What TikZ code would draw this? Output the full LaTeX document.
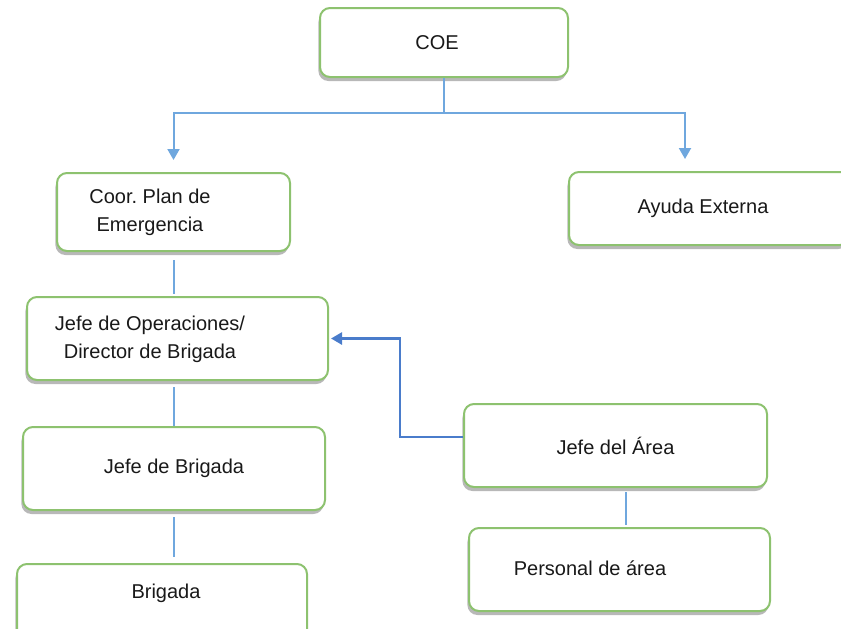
\documentclass[tikz,border=0pt]{standalone}
\usepackage{fontspec}
\setmainfont{Liberation Sans}
\usetikzlibrary{shadows,arrows.meta,calc}
\definecolor{boxgreen}{HTML}{8DC26F}
\definecolor{linkblue}{HTML}{6FA7DE}
\definecolor{arrowblue}{HTML}{4A7CCB}
\frenchspacing
\begin{document}
\begin{tikzpicture}[x=0.5pt,y=-0.5pt,
  box/.style={draw=boxgreen,line width=1pt,fill=white,rounded corners=5pt,
    drop shadow={shadow xshift=-0.8pt,shadow yshift=-2pt,fill=black,opacity=0.28},
    inner sep=0pt,font=\fontsize{10}{14}\selectfont,text=black!90},
  txt/.style={inner sep=0pt,align=center,font=\fontsize{10}{14}\selectfont,text=black!90},
  conn/.style={draw=linkblue,line width=1pt},
  arr/.style={conn,-{Triangle[length=5.5pt,width=6pt]},shorten >=6pt},
  barr/.style={draw=arrowblue,line width=1.3pt,-{Triangle[length=5.5pt,width=6pt]},shorten >=1pt}]
\useasboundingbox (0,0) rectangle (841,628);
% boxes: centre (x,y), width, height in px
\node[box,minimum width=124pt,minimum height=34.5pt] (coe) at (444,42.5) {};
\node[txt] (coeT) at (437,42.5) {COE};
\node[box,minimum width=116.5pt,minimum height=39pt] (coor) at (173.5,212) {};
\node[txt] (coorT) at (150,212) {Coor. Plan de\\Emergencia};
\node[box,minimum width=140.5pt,minimum height=36.5pt] (ayuda) at (709.5,208.5) {};
\node[txt] (ayudaT) at (703,208.5) {Ayuda Externa};
\node[box,minimum width=150.5pt,minimum height=41.5pt] (ops) at (177.5,338.5) {};
\node[txt] (opsT) at (150,339) {Jefe de Operaciones/\\Director de Brigada};
\node[box,minimum width=151pt,minimum height=41.5pt] (jb) at (174,468.5) {Jefe de Brigada};
\node[box,minimum width=145pt,minimum height=38pt] (brig) at (162,602) {};
\node[txt] (brigT) at (166,593) {Brigada};
\node[box,minimum width=151.5pt,minimum height=41.5pt] (area) at (615.5,445.5) {Jefe del \'Area};
\node[box,minimum width=150.5pt,minimum height=41.5pt] (pers) at (619.5,569.5) {};
\node[txt] (persT) at (590,568) {Personal de \'area};
% connectors
\draw[conn] (coe.south) -- ++(0,35) coordinate (split);
\coordinate (ayTop) at ([xshift=58.5pt]ayuda.north west);
\draw[arr] (split) -| (coor.north);
\draw[arr] (split) -| (ayTop);
\draw[conn,shorten <=4pt,shorten >=1pt] (coor.south) -- (coor.south |- ops.north);
\draw[conn,shorten <=3pt] (coor.south |- ops.south) -- (coor.south |- jb.north);
\draw[conn,shorten <=3pt,shorten >=3pt] (coor.south |- jb.south) -- (coor.south |- brig.north);
\coordinate (areaL) at ([yshift=4.25pt]area.west);
\coordinate (bend) at (400,437);
\draw[barr] (areaL) -- (bend) |- (ops.east);
\coordinate (areaB) at ([xshift=5.25pt]area.south);
\draw[conn,shorten <=2pt,shorten >=1pt] (areaB) -- (areaB |- pers.north);
\end{tikzpicture}
\end{document}
